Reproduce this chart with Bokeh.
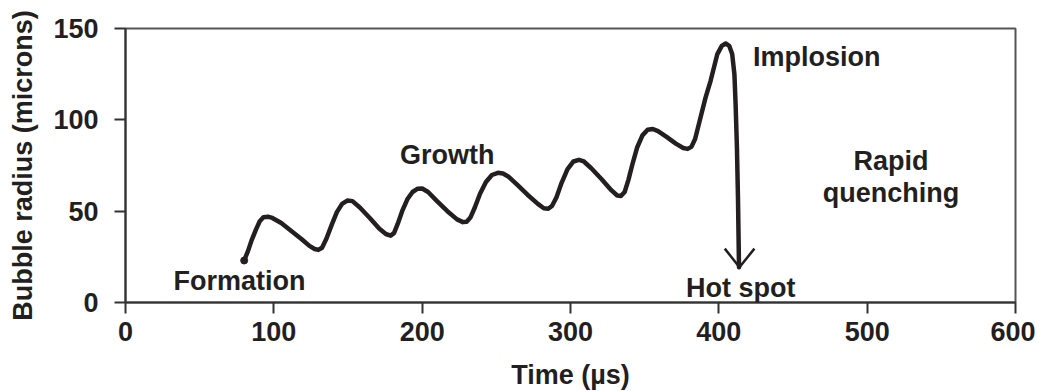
from bokeh.plotting import figure
from bokeh.models import Range1d, FixedTicker, Label
from bokeh.embed import file_html
from bokeh.resources import INLINE

# ---- data ----
time_us = [80, 82.5, 85, 88, 90.5, 93, 96, 99, 105, 112, 119, 124, 127.5, 130, 132.5,
           135.5, 139, 142.5, 146, 149.5, 153, 158, 165, 171, 175.5, 178.7, 181, 183.5,
           186.5, 190, 193.5, 197, 200, 204, 210, 217, 223.5, 227.5, 230, 232.5, 235.5,
           239, 243, 247, 251, 254.5, 258, 264, 271, 278, 282, 285, 287.5, 290.5, 294,
           298, 302, 305.7, 309, 314, 321, 327.5, 331.5, 334, 336.5, 339, 342, 345, 348.5,
           352, 355.5, 359, 365, 371, 376, 379, 381.5, 384, 387.7, 391, 394.5, 399, 402,
           404.6, 407, 409, 410.5, 411.3, 412.2, 412.9, 413.6]
radius_um = [23, 28, 34, 40, 44.5, 46.7, 47, 46.3, 43.5, 39, 34.5, 31, 29.3, 28.8, 30,
             35, 42.5, 49.5, 54, 55.8, 55.5, 52, 46, 40.5, 37.5, 36.6, 38, 43,
             50, 56.5, 60.5, 62.3, 62.4, 60.5, 55.5, 50, 45.5, 44, 44.2, 46.5, 52,
             59.5, 66, 69.8, 71, 70.6, 69, 64.5, 59, 54, 51.6, 51.3, 52.8, 57.5, 65.5,
             73, 77.2, 78.1, 77.2, 73.5, 67.5, 61.5, 58.6, 58.3, 60.5, 67, 76.5, 85, 91.5,
             94.6, 95, 93.8, 90.5, 87, 84.6, 84.1, 85.2, 89.5, 101.4, 112, 121.5, 136, 140.5,
             141.8, 140.5, 136, 125, 108.8, 85, 57.6, 19.3]
start_x = [80]
start_y = [23]
arrow_head_x = [404.0, 413.9, 424.0]
arrow_head_y = [29.5, 19.3, 29.5]

x_ticks = [0, 100, 200, 300, 400, 500, 600]
y_ticks = [0, 50, 100, 150]

annotations = [
    ("Formation", 76.9, 12.0, "center"),
    ("Growth", 216.9, 81.0, "center"),
    ("Implosion", 466.0, 134.2, "center"),
    ("Rapid", 516.0, 77.6, "center"),
    ("quenching", 516.0, 60.2, "center"),
    ("Hot spot", 414.7, 8.2, "center"),
]

INK = "#231f20"
FONT = "Liberation Sans"
FS = "27px"

p = figure(
    output_backend="svg", toolbar_location=None,
    frame_width=890, frame_height=274,
    min_border_left=125, min_border_right=20, min_border_top=28, min_border_bottom=81,
    x_range=Range1d(0, 600), y_range=Range1d(0, 150),
    x_axis_label="Time (\u00b5s)", y_axis_label="Bubble radius (microns)",
)
p.background_fill_color = "white"
p.border_fill_color = "white"
p.outline_line_color = "#555555"
p.outline_line_width = 2
p.xgrid.visible = False
p.ygrid.visible = False

p.xaxis.ticker = FixedTicker(ticks=x_ticks)
p.yaxis.ticker = FixedTicker(ticks=y_ticks)
for ax in (p.xaxis[0], p.yaxis[0]):
    ax.axis_line_color = "#333333"
    ax.axis_line_width = 2
    ax.major_tick_line_color = "#333333"
    ax.major_tick_line_width = 2
    ax.major_tick_in = 0
    ax.major_tick_out = 11
    ax.minor_tick_line_color = None
    ax.major_label_text_font = FONT
    ax.major_label_text_font_style = "bold"
    ax.major_label_text_font_size = FS
    ax.major_label_text_color = INK
    ax.axis_label_text_font = FONT
    ax.axis_label_text_font_style = "bold"
    ax.axis_label_text_font_size = FS
    ax.axis_label_text_color = INK
p.xaxis.major_label_standoff = 8
p.xaxis.axis_label_standoff = 16
p.yaxis.major_label_standoff = 16
p.yaxis.axis_label_standoff = 12

p.line(time_us, radius_um, line_color=INK, line_width=4.5, line_join="round", line_cap="round")
p.line(arrow_head_x, arrow_head_y, line_color=INK, line_width=2.5, line_join="miter")
p.scatter(start_x, start_y, size=7, color=INK)

for txt, x, y, align in annotations:
    p.add_layout(Label(x=x, y=y, text=txt, text_align=align, text_baseline="alphabetic",
                       text_font=FONT, text_font_style="bold", text_font_size=FS,
                       text_color=INK))

open("out.html", "w").write(file_html(p, INLINE))
